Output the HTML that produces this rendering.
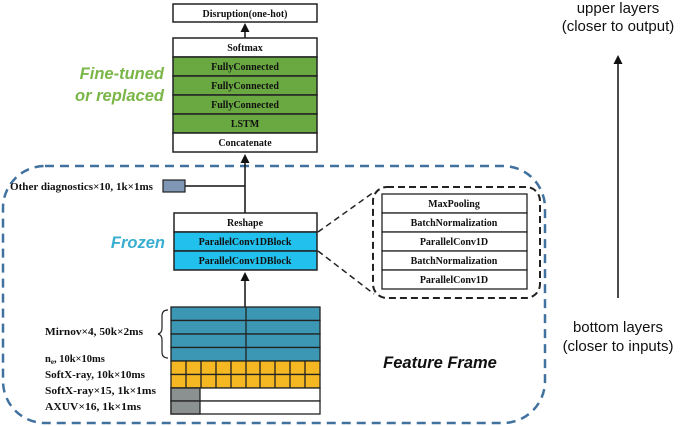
<!DOCTYPE html>
<html><head><meta charset="utf-8"><style>
html,body{margin:0;padding:0;background:#fff;}
svg{display:block;}
.s{font-family:"Liberation Serif",serif;font-weight:bold;font-size:10px;fill:#111;}
.l{font-family:"Liberation Serif",serif;font-weight:bold;font-size:10.5px;fill:#111;}
.c{font-family:"Liberation Sans",sans-serif;font-size:15px;fill:#111;}
.it{font-family:"Liberation Sans",sans-serif;font-style:italic;font-weight:bold;font-size:16.5px;}
</style></head><body>
<svg width="685" height="426" viewBox="0 0 685 426" xmlns="http://www.w3.org/2000/svg">
<defs><marker id="ah" markerWidth="8" markerHeight="8" refX="4" refY="4" orient="auto"><path d="M0,1 L6,4 L0,7 z" fill="#111"/></marker></defs>
<rect x="3" y="166" width="542" height="257" rx="42" fill="none" stroke="#41729f" stroke-width="2.5" stroke-dasharray="9,6"/>
<rect x="173" y="4" width="144" height="18" fill="#fff" stroke="#222" stroke-width="1.5"/>
<text class="s" x="245" y="17" text-anchor="middle">Disruption(one-hot)</text>
<line x1="245" y1="38" x2="245" y2="26" stroke="#111" stroke-width="1.5" marker-end="url(#ah)"/>
<rect x="173" y="38" width="144" height="19" fill="#fff" stroke="#222" stroke-width="1.5"/>
<text class="s" x="245" y="51" text-anchor="middle">Softmax</text>
<rect x="173" y="57" width="144" height="19" fill="#6aa842" stroke="#222" stroke-width="1.5"/>
<text class="s" x="245" y="70" text-anchor="middle">FullyConnected</text>
<rect x="173" y="76" width="144" height="19" fill="#6aa842" stroke="#222" stroke-width="1.5"/>
<text class="s" x="245" y="89" text-anchor="middle">FullyConnected</text>
<rect x="173" y="95" width="144" height="19" fill="#6aa842" stroke="#222" stroke-width="1.5"/>
<text class="s" x="245" y="108" text-anchor="middle">FullyConnected</text>
<rect x="173" y="114" width="144" height="19" fill="#6aa842" stroke="#222" stroke-width="1.5"/>
<text class="s" x="245" y="127" text-anchor="middle">LSTM</text>
<rect x="173" y="133" width="144" height="19" fill="#fff" stroke="#222" stroke-width="1.5"/>
<text class="s" x="245" y="146" text-anchor="middle">Concatenate</text>
<text class="it" x="164" y="79" text-anchor="end" fill="#7ab648">Fine-tuned</text>
<text class="it" x="164" y="101" text-anchor="end" fill="#7ab648">or replaced</text>
<line x1="245" y1="213" x2="245" y2="157" stroke="#111" stroke-width="1.5" marker-end="url(#ah)"/>
<line x1="185" y1="186" x2="245" y2="186" stroke="#111" stroke-width="1.5"/>
<rect x="163" y="180" width="22" height="12" fill="#7f96b4" stroke="#222" stroke-width="1.2"/>
<text class="l" x="10" y="190" textLength="143" lengthAdjust="spacingAndGlyphs">Other diagnostics×10, 1k×1ms</text>
<rect x="174" y="213" width="143" height="19" fill="#fff" stroke="#222" stroke-width="1.5"/>
<text class="s" x="245" y="226" text-anchor="middle">Reshape</text>
<rect x="174" y="232" width="143" height="19" fill="#22c0ec" stroke="#222" stroke-width="1.5"/>
<text class="s" x="245" y="245" text-anchor="middle">ParallelConv1DBlock</text>
<rect x="174" y="251" width="143" height="19" fill="#22c0ec" stroke="#222" stroke-width="1.5"/>
<text class="s" x="245" y="264" text-anchor="middle">ParallelConv1DBlock</text>
<text class="it" x="165" y="248" text-anchor="end" fill="#3aaed0">Frozen</text>
<line x1="245" y1="307" x2="245" y2="275" stroke="#111" stroke-width="1.5" marker-end="url(#ah)"/>
<line x1="318" y1="232" x2="374" y2="192" stroke="#222" stroke-width="1.5" stroke-dasharray="6,4"/>
<line x1="318" y1="251" x2="374" y2="294" stroke="#222" stroke-width="1.5" stroke-dasharray="6,4"/>
<rect x="373" y="187" width="167" height="111" rx="14" fill="none" stroke="#222" stroke-width="2" stroke-dasharray="7,4"/>
<g fill="#fff" stroke="#222" stroke-width="1.3">
<rect x="382" y="194" width="145" height="19"/><rect x="382" y="213" width="145" height="19"/><rect x="382" y="232" width="145" height="19"/><rect x="382" y="251" width="145" height="19"/><rect x="382" y="270" width="145" height="19"/></g>
<text class="s" x="454" y="207" text-anchor="middle">MaxPooling</text>
<text class="s" x="454" y="226" text-anchor="middle">BatchNormalization</text>
<text class="s" x="454" y="245" text-anchor="middle">ParallelConv1D</text>
<text class="s" x="454" y="264" text-anchor="middle">BatchNormalization</text>
<text class="s" x="454" y="283" text-anchor="middle">ParallelConv1D</text>
<g stroke="#222" stroke-width="1.3">
<rect x="171" y="307" width="149" height="13.5" fill="#3b97b3"/>
<rect x="171" y="320.5" width="149" height="13.5" fill="#3b97b3"/>
<rect x="171" y="334" width="149" height="13.5" fill="#3b97b3"/>
<rect x="171" y="347.5" width="149" height="13.5" fill="#3b97b3"/>
<line x1="246" y1="307" x2="246" y2="361"/>
<rect x="171" y="361" width="149" height="13.5" fill="#f5b822"/>
<rect x="171" y="374.5" width="149" height="13.5" fill="#f5b822"/>
<rect x="171" y="388" width="149" height="13" fill="#fff"/>
<rect x="171" y="401" width="149" height="13" fill="#fff"/>
<rect x="171" y="388" width="29" height="13" fill="#8b9090"/>
<rect x="171" y="401" width="29" height="13" fill="#8b9090"/>
<path d="M186,361V388M201,361V388M216,361V388M231,361V388M246,361V388M260,361V388M275,361V388M290,361V388M305,361V388"/>
</g>
<path d="M168,310 q-6,0 -6,6 v12 q0,5 -4,6 q4,1 4,6 v12 q0,6 6,6" fill="none" stroke="#222" stroke-width="1.2"/>
<text class="l" x="45" y="335" textLength="98" lengthAdjust="spacingAndGlyphs">Mirnov×4, 50k×2ms</text>
<text class="l" x="45" y="362">n<tspan font-size="7" dy="2">e</tspan><tspan dy="-2">, 10k×10ms</tspan></text>
<text class="l" x="45" y="378" textLength="100" lengthAdjust="spacingAndGlyphs">SoftX-ray, 10k×10ms</text>
<text class="l" x="45" y="394" textLength="111" lengthAdjust="spacingAndGlyphs">SoftX-ray×15, 1k×1ms</text>
<text class="l" x="45" y="410" textLength="96" lengthAdjust="spacingAndGlyphs">AXUV×16, 1k×1ms</text>
<text class="it" x="440" y="368" text-anchor="middle" fill="#111">Feature Frame</text>
<text class="c" x="618" y="13" text-anchor="middle">upper layers</text>
<text class="c" x="618" y="31" text-anchor="middle">(closer to output)</text>
<line x1="618" y1="298" x2="618" y2="58" stroke="#111" stroke-width="1.5" marker-end="url(#ah)"/>
<text class="c" x="618" y="332" text-anchor="middle">bottom layers</text>
<text class="c" x="618" y="351" text-anchor="middle">(closer to inputs)</text>
</svg>
</body></html>
